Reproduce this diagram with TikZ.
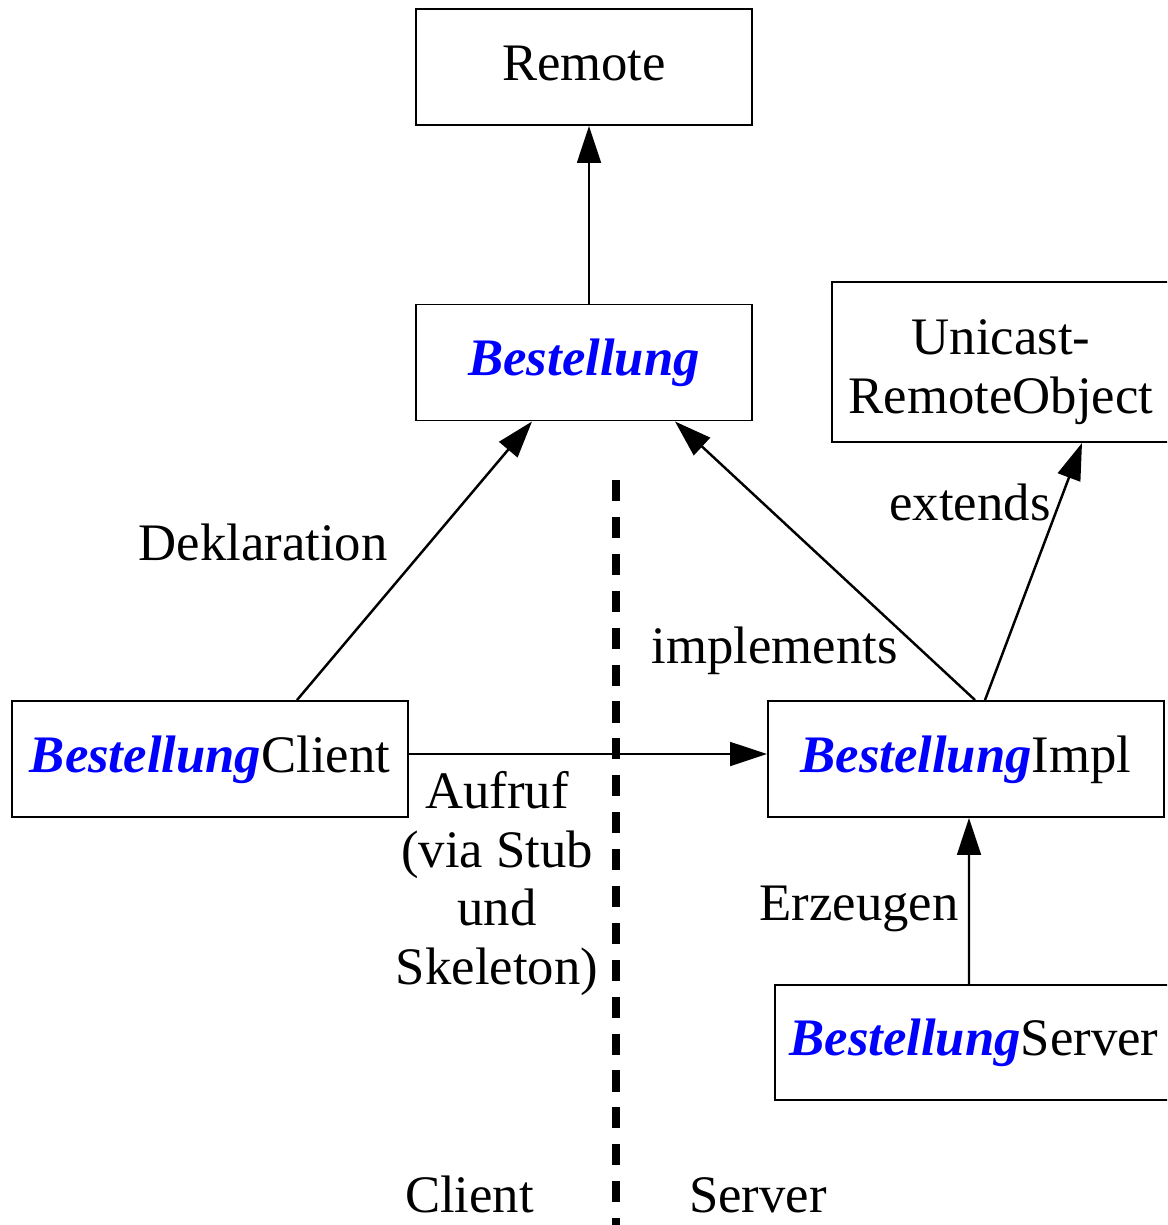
\documentclass[tikz,border=0pt]{standalone}
\usepackage{fontspec}
\setmainfont{Liberation Serif}
\usetikzlibrary{arrows.meta,calc}
\definecolor{kwblue}{RGB}{0,0,255}
\newcommand{\kw}[1]{\textcolor{kwblue}{\textbf{\textit{#1}}}}
\begin{document}
\begin{tikzpicture}[
  font=\fontsize{30}{33.3}\selectfont,
  box/.style={draw, line width=1.1pt, minimum width=#1, minimum height=2.32cm,
              inner sep=0pt, text height=18.5pt, text depth=3.2pt},
  conn/.style={line width=1.4pt, -{Triangle[length=21pt,width=13.5pt]}},
  divider/.style={line width=4.5pt, dash pattern=on 12pt off 9pt},
  lbl/.style={anchor=base, inner sep=0pt}
]
\useasboundingbox (0,0) rectangle (23.34,-24.5);
\clip (0,0) rectangle (23.34,-24.5);

% classes
\node[box=6.72cm] (remote) at (11.68,-1.34) {Remote};
\node[box=6.72cm] (bestellung) at (11.68,-7.25) {\kw{Bestellung}};
\node[draw, line width=1.1pt, minimum width=6.76cm, minimum height=3.2cm,
      inner sep=0pt, align=center] (unicast) at (20.02,-7.24)
      {\rule{0pt}{1.05em}Unicast-\\RemoteObject};
\node[box=7.92cm] (client) at (4.2,-15.18) {\kw{Bestellung}Client};
\node[box=7.92cm] (impl) at (19.32,-15.18) {\kw{Bestellung}Impl};
\node[box=7.96cm, minimum height=2.3cm] (server) at (19.48,-20.85) {\kw{Bestellung}Server};

% client / server boundary
\coordinate (divtop) at (12.32,-9.6);
\coordinate (divbot) at (12.32,-24.5);
\draw[divider] (divtop) -- (divbot);

% relations
\draw[conn] ($(bestellung.north)+(0.1,0)$) -- ($(remote.south)+(0.1,0)$);
\draw[conn] ($(client.north)+(1.74,0)$) -- ($(bestellung.south)+(-1.04,0)$);
\draw[conn] ($(impl.north)+(0.18,0)$) -- ($(bestellung.south)+(1.82,0)$);
\draw[conn] ($(impl.north)+(0.38,0)$) -- ($(unicast.south)+(1.62,0)$);
\draw[conn] ($(client.east)+(0,0.1)$) -- ($(impl.west)+(0,0.1)$);
\draw[conn] ($(server.north)+(-0.1,0)$) -- ($(impl.south)+(0.06,0)$);

% labels
\node[lbl] (deklaration) at (5.26,-11.2) {Deklaration};
\node[lbl] (implements) at (15.49,-13.26) {implements};
\node[lbl] (extends) at (19.4,-10.4) {extends};
\node[inner sep=0pt, align=center] (aufruf) at (9.94,-17.67) {Aufruf\\(via Stub\\und\\Skeleton)};
\node[lbl] (erzeugen) at (17.18,-18.4) {Erzeugen};
\node[lbl] (clientlbl) at (9.39,-24.24) {Client};
\node[lbl] (serverlbl) at (15.16,-24.24) {Server};
\end{tikzpicture}
\end{document}
